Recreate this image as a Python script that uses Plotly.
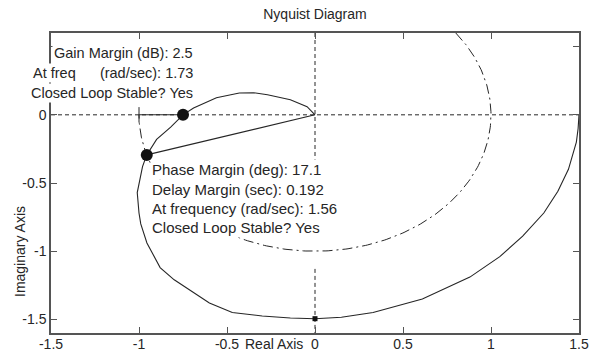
import numpy as np
import plotly.graph_objects as go

# Nyquist locus of the open-loop response (real / imaginary parts)
re_vals = [1.5, 1.495, 1.485, 1.46, 1.44, 1.38, 1.30, 1.18, 1.05, 0.88, 0.61, 0.33,
           0.15, 0.0, -0.14, -0.30, -0.47, -0.60, -0.71, -0.80, -0.88, -0.955,
           -0.99, -1.0, -1.01, -0.99, -0.98, -0.956, -0.90, -0.82, -0.75, -0.69,
           -0.56, -0.43, -0.35, -0.27, -0.14, -0.045, 0.0]
im_vals = [0.0, -0.10, -0.20, -0.32, -0.40, -0.56, -0.72, -0.89, -1.04, -1.19, -1.35, -1.45,
           -1.485, -1.495, -1.49, -1.475, -1.45, -1.38, -1.29, -1.21, -1.12, -0.94,
           -0.80, -0.72, -0.57, -0.43, -0.38, -0.294, -0.18, -0.09, 0.0, 0.05,
           0.125, 0.16, 0.162, 0.147, 0.11, 0.06, 0.0]

# Stability margins
gain_margin_db = 2.5
gain_freq = 1.73
phase_margin_deg = 17.1
delay_margin = 0.192
phase_freq = 1.56

# Tick positions / labels
x_ticks = [-1.5, -1, -0.5, 0, 0.5, 1, 1.5]
x_labels = ["-1.5", "-1", "-0.5", "0", "0.5", "1", "1.5"]
y_ticks = [-1.5, -1, -0.5, 0, 0.5]
y_labels = ["-1.5", "-1", "-0.5", "0", ""]

gain_text = [f"Gain Margin (dB): {gain_margin_db}",
             f"At freq      (rad/sec): {gain_freq}",
             "Closed Loop Stable? Yes"]
phase_text = [f"Phase Margin (deg): {phase_margin_deg}",
              f"Delay Margin (sec): {delay_margin}",
              f"At frequency (rad/sec): {phase_freq}",
              "Closed Loop Stable? Yes"]

INK = "#262626"
AX = "#555555"
FONT = "Arial, Liberation Sans, sans-serif"

# Points where the margins are measured
gm_x = -1.0 / 10 ** (gain_margin_db / 20.0)
pm_ang = np.deg2rad(-180.0 + phase_margin_deg)
pm_x, pm_y = np.cos(pm_ang), np.sin(pm_ang)

# Unit circle guide (right/lower part)
theta = np.deg2rad(np.linspace(36.87, -180.0, 300))
circ_x, circ_y = np.cos(theta), np.sin(theta)

fig = go.Figure()

fig.add_trace(go.Scatter(x=circ_x, y=circ_y, mode="lines",
                         line=dict(color=INK, width=1, dash="10px,4px,2px,4px"),
                         hoverinfo="skip"))
fig.add_trace(go.Scatter(x=re_vals, y=im_vals, mode="lines",
                         line=dict(color=INK, width=1.1), hoverinfo="skip"))
# gain margin segment and phase margin ray
fig.add_trace(go.Scatter(x=[-1.0, gm_x], y=[0, 0], mode="lines",
                         line=dict(color=INK, width=1.1)))
fig.add_trace(go.Scatter(x=[0, pm_x], y=[0, pm_y], mode="lines",
                         line=dict(color=INK, width=1.1)))
# critical point
fig.add_trace(go.Scatter(x=[-1.0], y=[0], mode="markers",
                         marker=dict(symbol="line-ns", size=11,
                                     line=dict(color=INK, width=1))))
# margin markers
fig.add_trace(go.Scatter(x=[gm_x, pm_x], y=[0, pm_y], mode="markers",
                         marker=dict(symbol="circle", size=12, color="#111111")))
fig.add_trace(go.Scatter(x=[0], y=[min(im_vals)], mode="markers",
                         marker=dict(symbol="square", size=5, color="#111111")))

# Axis guide lines
shapes = [
    dict(type="line", xref="x", yref="y", x0=-1.5, x1=1.5, y0=0, y1=0,
         line=dict(color=INK, width=1, dash="4px,3px"), layer="below"),
    dict(type="line", xref="x", yref="y", x0=0, x1=0, y0=0.6, y1=-0.35,
         line=dict(color=INK, width=1, dash="4px,3px"), layer="below"),
    dict(type="line", xref="x", yref="y", x0=0, x1=0, y0=-1.13, y1=-1.6,
         line=dict(color=INK, width=1, dash="4px,3px"), layer="below"),
]

annotations = []
for txt, yv in zip(gain_text, [0.456, 0.309, 0.162]):
    annotations.append(dict(x=-0.682, y=yv, xref="x", yref="y", text=txt,
                            showarrow=False, xanchor="right", yanchor="middle",
                            font=dict(family=FONT, size=14.5, color=INK),
                            bgcolor="white", borderpad=1))
for txt, yv in zip(phase_text, [-0.404, -0.551, -0.687, -0.827]):
    annotations.append(dict(x=-0.94, y=yv, xref="x", yref="y", text=txt,
                            showarrow=False, xanchor="left", yanchor="middle",
                            font=dict(family=FONT, size=15, color=INK),
                            bgcolor="white", borderpad=1))
annotations.append(dict(x=0.4223, y=-0.037, xref="paper", yref="paper",
                        text="Real Axis", showarrow=False,
                        xanchor="center", yanchor="middle",
                        font=dict(family=FONT, size=14, color=INK)))
annotations.append(dict(x=-0.0587, y=0.27, xref="paper", yref="paper",
                        text="Imaginary Axis", showarrow=False, textangle=-90,
                        xanchor="center", yanchor="middle",
                        font=dict(family=FONT, size=14, color=INK)))

fig.update_layout(
    width=590, height=353,
    margin=dict(l=51, r=11, t=33, b=20, autoexpand=False),
    paper_bgcolor="white", plot_bgcolor="white",
    showlegend=False,
    title=dict(text="Nyquist Diagram", x=0.5, xref="paper", y=0.96,
               yanchor="middle", automargin=False,
               font=dict(family=FONT, size=14, color=INK)),
    shapes=shapes,
    annotations=annotations,
)
fig.update_xaxes(range=[-1.5, 1.5], tickvals=x_ticks, ticktext=x_labels,
                 ticks="inside", ticklen=6, tickcolor=AX, showline=True,
                 linecolor=AX, linewidth=1.5, mirror="ticks", showgrid=False,
                 zeroline=False, automargin=False, ticklabelstandoff=-3,
                 tickfont=dict(family=FONT, size=14, color=INK))
fig.update_yaxes(range=[-1.6, 0.6], tickvals=y_ticks, ticktext=y_labels,
                 ticks="inside", ticklen=6, tickcolor=AX, showline=True,
                 linecolor=AX, linewidth=1.5, mirror="ticks", showgrid=False,
                 zeroline=False, automargin=False,
                 tickfont=dict(family=FONT, size=14, color=INK))

fig.write_html("out.html")
